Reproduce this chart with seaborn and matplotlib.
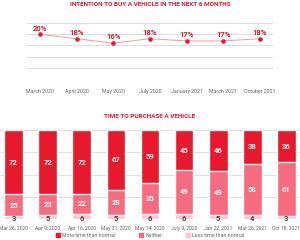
import numpy as np
import pandas as pd
import seaborn as sns
import matplotlib.pyplot as plt
from matplotlib.patches import Patch

# line chart data
months = ["March 2020", "April 2020", "May 2020", "July 2020",
          "January 2021", "March 2021", "October 2021"]
intention = [20, 18, 16, 18, 17, 17, 18]

# stacked bar data
dates = ["Mar 26, 2020", "Apr 9, 2020", "Apr 16, 2020", "May 31, 2020", "May 14, 2020",
         "July 9, 2020", "Jan 22, 2021", "Mar 26, 2021", "Oct 18, 2021"]
more_time = [72, 72, 72, 67, 59, 45, 46, 38, 36]
neither = [25, 23, 22, 28, 35, 49, 49, 58, 61]
less_time = [3, 5, 6, 5, 6, 6, 5, 4, 3]

RED = "#e8192c"
PINK = "#f76b7e"
LIGHT = "#fbc6cf"
GREY = "#666666"

sns.set_theme(style="white")
plt.rcParams['font.family'] = ['Roboto', 'DejaVu Sans']

fig = plt.figure(figsize=(3, 2.4), dpi=100)

# ---- line chart ----
ax1 = fig.add_axes([0.09, 0.671, 0.82, 0.233])
df_line = pd.DataFrame({'month': months, 'pct': intention})
sns.lineplot(x='month', y='pct', data=df_line, ax=ax1, color="#f59aa3", lw=0.7,
             marker='o', markersize=2.5, markerfacecolor=RED, markeredgecolor=RED, sort=False)
for i, v in enumerate(intention):
    ax1.text(i, v + 1.2, f"{v}%", ha='center', va='bottom', fontsize=5.5,
             color=RED, fontweight='bold')
ax1.set_ylim(0, 25)
ax1.set_xlim(-0.355, 6.355)
ax1.set_yticks([0, 5, 10, 15, 20, 25])
ax1.set_yticklabels([])
ax1.yaxis.grid(True, color="#d9d9d9", lw=0.6)
ax1.tick_params(axis='x', labelsize=3.8, colors=GREY, length=0, pad=7)
ax1.tick_params(axis='y', length=0)
ax1.set_xlabel("")
ax1.set_ylabel("")
sns.despine(ax=ax1, left=True, bottom=True)
fig.text(0.5, 0.993, "INTENTION TO BUY A VEHICLE IN THE NEXT 6 MONTHS", ha='center', va='top',
         fontsize=4.6, color=RED, fontweight='bold')

# ---- stacked bar chart ----
ax2 = fig.add_axes([0.0, 0.0875, 1.0, 0.3705])
df_bar = pd.DataFrame({'date': dates, 'more': more_time, 'neither': neither, 'less': less_time})
df_bar['total'] = df_bar['more'] + df_bar['neither'] + df_bar['less']
df_bar['mid'] = df_bar['neither'] + df_bar['less']
sns.barplot(x='date', y='total', data=df_bar, color=RED, width=0.55, ax=ax2, saturation=1, zorder=2)
sns.barplot(x='date', y='mid', data=df_bar, color=PINK, width=0.55, ax=ax2, saturation=1, zorder=2)
sns.barplot(x='date', y='less', data=df_bar, color=LIGHT, width=0.55, ax=ax2, saturation=1, zorder=2)
for i in range(len(dates)):
    lo, mid, top = less_time[i], neither[i], more_time[i]
    ax2.text(i, lo + mid / 2, str(mid), ha='center', va='center', fontsize=5.5,
             color='white', fontweight='bold', zorder=3)
    ax2.text(i, lo + mid + top / 2, str(top), ha='center', va='center', fontsize=5.5,
             color='white', fontweight='bold', zorder=3)
    ax2.text(i, 0.5, str(lo), ha='center', va='center', fontsize=5.5,
             color="#444444", fontweight='bold', zorder=3)
ax2.set_ylim(0, 100)
ax2.set_xlim(-0.40, 8.40)
ax2.set_yticks([0, 25, 50, 75, 100])
ax2.set_yticklabels([])
ax2.yaxis.grid(True, color="#d9d9d9", lw=0.6, zorder=0)
ax2.set_axisbelow(True)
ax2.tick_params(axis='x', labelsize=3.6, colors=GREY, length=0, pad=5)
ax2.tick_params(axis='y', length=0)
ax2.set_xlabel("")
ax2.set_ylabel("")
sns.despine(ax=ax2, left=True, bottom=True)
fig.text(0.5, 0.525, "TIME TO PURCHASE A VEHICLE", ha='center', va='top',
         fontsize=4.6, color=RED, fontweight='bold')

handles = [Patch(color=RED, label="More time than normal"),
           Patch(color=PINK, label="Neither"),
           Patch(color=LIGHT, label="Less time than normal")]
fig.legend(handles=handles, loc='lower center', bbox_to_anchor=(0.5, -0.012), ncol=3,
           frameon=False, fontsize=3.8, handlelength=0.8, handleheight=0.8,
           handletextpad=0.4, columnspacing=4.5, labelcolor=GREY)

fig.savefig("out.png", dpi=100)
